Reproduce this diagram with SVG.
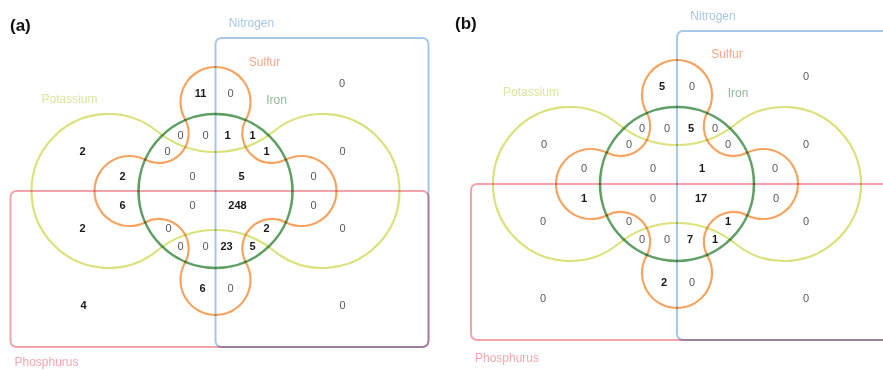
<svg xmlns="http://www.w3.org/2000/svg" xmlns:xlink="http://www.w3.org/1999/xlink" width="883" height="370" viewBox="0 0 883 370">
<style>
  .shape { fill: none; mix-blend-mode: multiply; }
  .nit { stroke: #a6c8e6; stroke-width: 2; }
  .pho { stroke: #f5a3ab; stroke-width: 2; }
  .iron { stroke: #5f9f63; stroke-width: 2.6; }
  .sul { stroke: #f6a462; stroke-width: 2.2; }
  .pot { stroke: #dbe27c; stroke-width: 2.2; }
  text { font-family: "Liberation Sans", Arial, sans-serif; }
  .lbl { font-size: 12px; }
  .num { font-size: 11px; text-anchor: middle; }
  .z { fill: #5a5a5a; }
  .n { fill: #1a1a1a; font-weight: bold; }
  .panel { font-size: 17px; font-weight: bold; fill: #111; }
</style>
<defs>
  <path id="potPath" d="M -58.43 -59.75 A 77 77 0 1 0 -58.43 59.75 A 92.64 92.64 0 0 1 58.43 59.75 A 77 77 0 1 0 58.43 -59.75 A 92.64 92.64 0 0 1 -58.43 -59.75 Z"/>
  <path id="sulPath" d="M -30.6 -72 A 35 35 0 1 1 30.6 -72 A 29.68 29.68 0 0 0 70.06 -31.16 A 35 35 0 1 1 70.06 31.16 A 29.68 29.68 0 0 0 30.6 72 A 35 35 0 1 1 -30.6 72 A 29.68 29.68 0 0 0 -70.06 31.16 A 35 35 0 1 1 -70.06 -31.16 A 29.68 29.68 0 0 0 -30.6 -72 Z"/>
</defs>
<rect width="883" height="370" fill="#ffffff"/>

<!-- Panel (a) -->
<text class="panel" x="10" y="31">(a)</text>
<g id="panel-a" transform="translate(215.5,191)">
  <g id="a-nitrogen">
    <rect class="shape nit" x="0" y="-153" width="213" height="309" rx="6"/>
    <text class="lbl" x="36" y="-164" text-anchor="middle" fill="#a9c6e6">Nitrogen</text>
  </g>
  <g id="a-phosphurus">
    <rect class="shape pho" x="-205" y="0" width="418" height="156" rx="6"/>
    <text class="lbl" x="-201" y="175" fill="#f4a7b0">Phosphurus</text>
  </g>
  <g id="a-potassium">
    <use xlink:href="#potPath" class="shape pot"/>
    <text class="lbl" x="-146" y="-88" text-anchor="middle" fill="#dde59c">Potassium</text>
  </g>
  <g id="a-sulfur">
    <use xlink:href="#sulPath" class="shape sul"/>
    <text class="lbl" x="49" y="-125" text-anchor="middle" fill="#f5a987">Sulfur</text>
  </g>
  <g id="a-iron">
    <circle class="shape iron" cx="0" cy="0" r="77"/>
    <text class="lbl" x="61" y="-87" text-anchor="middle" fill="#8fba9a">Iron</text>
  </g>
  <g id="a-counts" class="num">
    <text class="n" x="-15" y="-94">11</text><text class="z" x="15" y="-94">0</text>
    <text class="z" x="126.5" y="-104">0</text>
    <text class="z" x="-35" y="-52">0</text><text class="z" x="-10" y="-52">0</text><text class="n" x="12" y="-52">1</text><text class="n" x="37" y="-52">1</text>
    <text class="n" x="-133" y="-36">2</text><text class="z" x="-48" y="-36">0</text><text class="n" x="51" y="-36">1</text><text class="z" x="127" y="-36">0</text>
    <text class="n" x="-93" y="-11">2</text><text class="z" x="-23" y="-11">0</text><text class="n" x="26" y="-11">5</text><text class="z" x="98" y="-11">0</text>
    <text class="n" x="-93" y="18">6</text><text class="z" x="-23" y="18">0</text><text class="n" x="22" y="18">248</text><text class="z" x="98" y="18">0</text>
    <text class="n" x="-133" y="41">2</text><text class="z" x="-47" y="41">0</text><text class="n" x="51" y="41">2</text><text class="z" x="127" y="41">0</text>
    <text class="z" x="-35" y="59">0</text><text class="z" x="-10" y="59">0</text><text class="n" x="11" y="59">23</text><text class="n" x="37" y="59">5</text>
    <text class="n" x="-13" y="101">6</text><text class="z" x="15" y="101">0</text>
    <text class="n" x="-132" y="118">4</text><text class="z" x="127" y="118">0</text>
  </g>
</g>

<!-- Panel (b) -->
<text class="panel" x="455" y="29">(b)</text>
<g id="panel-b" transform="translate(677,184)">
  <g id="b-nitrogen">
    <rect class="shape nit" x="0" y="-153" width="213" height="309" rx="6"/>
    <text class="lbl" x="36" y="-164" text-anchor="middle" fill="#a9c6e6">Nitrogen</text>
  </g>
  <g id="b-phosphurus">
    <rect class="shape pho" x="-206" y="0" width="419" height="156" rx="6"/>
    <text class="lbl" x="-202" y="178" fill="#f4a7b0">Phosphurus</text>
  </g>
  <g id="b-potassium">
    <use xlink:href="#potPath" class="shape pot"/>
    <text class="lbl" x="-146" y="-88" text-anchor="middle" fill="#dde59c">Potassium</text>
  </g>
  <g id="b-sulfur">
    <use xlink:href="#sulPath" class="shape sul"/>
    <text class="lbl" x="50" y="-126" text-anchor="middle" fill="#f5a987">Sulfur</text>
  </g>
  <g id="b-iron">
    <circle class="shape iron" cx="0" cy="0" r="77"/>
    <text class="lbl" x="61" y="-87" text-anchor="middle" fill="#8fba9a">Iron</text>
  </g>
  <g id="b-counts" class="num">
    <text class="n" x="-15" y="-94">5</text><text class="z" x="15" y="-94">0</text>
    <text class="z" x="129" y="-104">0</text>
    <text class="z" x="-35" y="-52">0</text><text class="z" x="-10" y="-52">0</text><text class="n" x="14" y="-52">5</text><text class="z" x="38" y="-52">0</text>
    <text class="z" x="-133" y="-36">0</text><text class="z" x="-48" y="-36">0</text><text class="z" x="51" y="-36">0</text><text class="z" x="129" y="-36">0</text>
    <text class="z" x="-93" y="-12">0</text><text class="z" x="-24" y="-12">0</text><text class="n" x="25" y="-12">1</text><text class="z" x="98" y="-12">0</text>
    <text class="n" x="-93" y="18">1</text><text class="z" x="-24" y="18">0</text><text class="n" x="24" y="18">17</text><text class="z" x="99" y="18">0</text>
    <text class="z" x="-134" y="41">0</text><text class="z" x="-48" y="41">0</text><text class="n" x="51" y="41">1</text><text class="z" x="129" y="41">0</text>
    <text class="z" x="-35" y="59">0</text><text class="z" x="-10" y="59">0</text><text class="n" x="13" y="59">7</text><text class="n" x="38" y="59">1</text>
    <text class="n" x="-13" y="102">2</text><text class="z" x="15" y="102">0</text>
    <text class="z" x="-134" y="118">0</text><text class="z" x="129" y="118">0</text>
  </g>
</g>
</svg>
